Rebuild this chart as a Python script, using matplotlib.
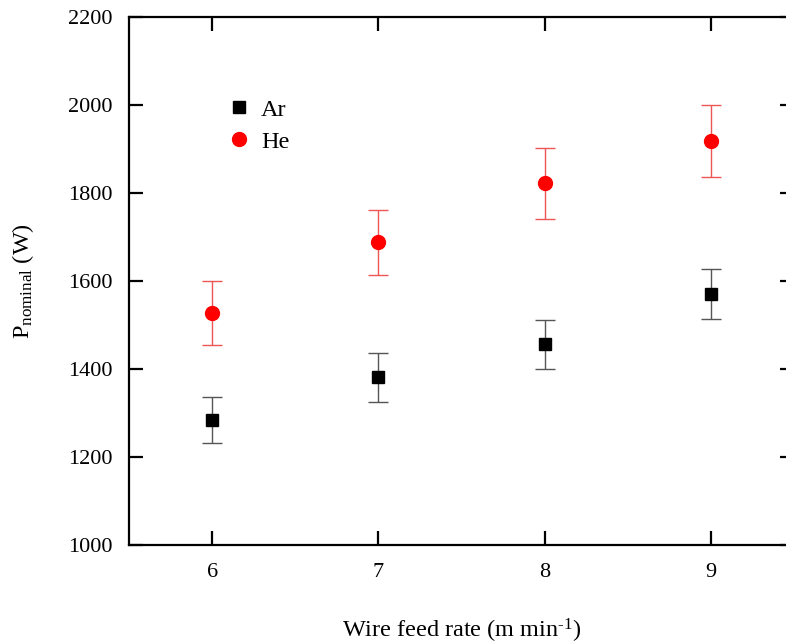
import matplotlib
matplotlib.use("Agg")
import matplotlib.pyplot as plt

plt.rcParams['font.family'] = ['Liberation Serif', 'DejaVu Serif']
plt.rcParams['mathtext.fontset'] = 'custom'
plt.rcParams['mathtext.rm'] = 'Liberation Serif'
plt.rcParams['mathtext.it'] = 'Liberation Serif:italic'

feed_rate = [6, 7, 8, 9]
ar_power = [1284, 1381, 1456, 1571]
ar_err = [52, 55, 56, 57]
he_power = [1527, 1688, 1822, 1919]
he_err = [73, 74, 80, 82]

fig = plt.figure(figsize=(7.86, 6.44), dpi=100)
ax = fig.add_axes([129 / 786, 99 / 644, 665 / 786, 528 / 644])

ax.errorbar(feed_rate, ar_power, yerr=ar_err, fmt='s', color='black',
            ecolor='#555555', elinewidth=1.0, capsize=7, capthick=1.0,
            markersize=9, label='Ar')
ax.errorbar(feed_rate, he_power, yerr=he_err, fmt='o', color='#ff0000',
            ecolor='#ee5555', elinewidth=1.0, capsize=7, capthick=1.0,
            markersize=10, label='He')

ax.set_xlim(5.5, 9.5)
ax.set_ylim(1000, 2200)
ax.set_xticks(feed_rate)
ax.set_yticks(range(1000, 2201, 200))

for s in ax.spines.values():
    s.set_linewidth(1.6)
ax.tick_params(direction='in', length=10, width=1.6, top=True, right=True,
               labelsize=16)
ax.tick_params(axis='x', pad=13)
ax.tick_params(axis='y', pad=12)

ax.set_xlabel('Wire feed rate (m min$^{\\mathrm{\u2010}1}$)', fontsize=17.5, labelpad=25)
ax.set_ylabel(r'$\mathrm{P_{nominal}}$ (W)', fontsize=17.5, labelpad=23)

handles, labels = ax.get_legend_handles_labels()
handles = [h[0] for h in handles]
ax.legend(handles, labels, loc='upper left', bbox_to_anchor=(0.1105, 0.887),
          frameon=False, fontsize=17.5, handletextpad=0.31, labelspacing=0.42,
          handlelength=1.2)

fig.savefig('out.png', dpi=100)
